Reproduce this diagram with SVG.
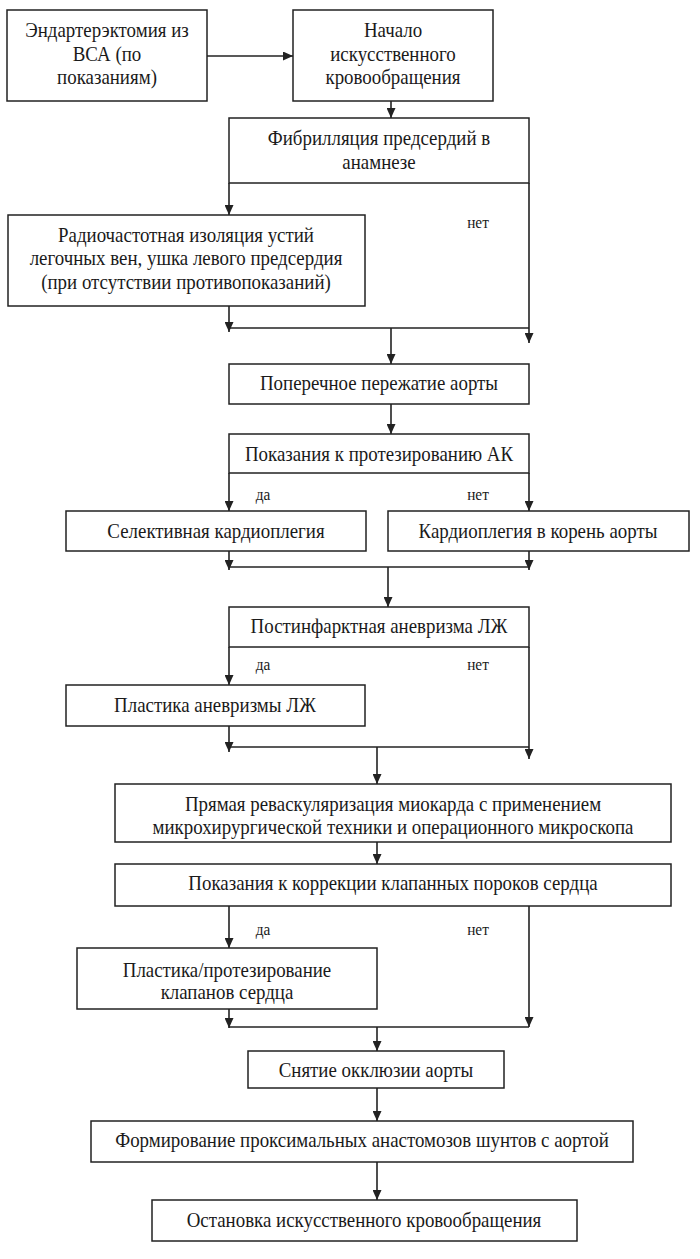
<svg xmlns="http://www.w3.org/2000/svg" width="700" height="1259" viewBox="0 0 700 1259">
<style>
.box{fill:#fff;stroke:#222;stroke-width:1.5}
.t{font-family:"Liberation Serif","Times New Roman",serif;font-size:21px;fill:#1a1a1a;text-anchor:middle}
.l{font-family:"Liberation Serif","Times New Roman",serif;font-size:17px;fill:#1a1a1a;text-anchor:middle}
.c{fill:none;stroke:#222;stroke-width:1.6}
</style>
<defs>
<marker id="ah" markerUnits="userSpaceOnUse" markerWidth="11" markerHeight="9" refX="10" refY="4.5" orient="auto">
<path d="M0,0 L10,4.5 L0,9 z" fill="#222"/>
</marker>
</defs>
<rect width="700" height="1259" fill="#fff"/>
<g id="connectors">
<path class="c" d="M207,56 H293" marker-end="url(#ah)"/>
<path class="c" d="M391,101 V118" marker-end="url(#ah)"/>
<path class="c" d="M229,183 V215" marker-end="url(#ah)"/>
<path class="c" d="M529,183 V343" marker-end="url(#ah)"/>
<path class="c" d="M229,306 V332" marker-end="url(#ah)"/>
<path class="c" d="M229,328 H529"/>
<path class="c" d="M391,328 V364" marker-end="url(#ah)"/>
<path class="c" d="M391,404 V434" marker-end="url(#ah)"/>
<path class="c" d="M229,473 V511" marker-end="url(#ah)"/>
<path class="c" d="M529,473 V511" marker-end="url(#ah)"/>
<path class="c" d="M229,551 V570" marker-end="url(#ah)"/>
<path class="c" d="M529,551 V570" marker-end="url(#ah)"/>
<path class="c" d="M229,567 H529"/>
<path class="c" d="M388,567 V607" marker-end="url(#ah)"/>
<path class="c" d="M229,647 V685" marker-end="url(#ah)"/>
<path class="c" d="M529,647 V759" marker-end="url(#ah)"/>
<path class="c" d="M229,726 V752" marker-end="url(#ah)"/>
<path class="c" d="M229,747 H529"/>
<path class="c" d="M377,747 V784" marker-end="url(#ah)"/>
<path class="c" d="M377,842 V864" marker-end="url(#ah)"/>
<path class="c" d="M229,906 V948" marker-end="url(#ah)"/>
<path class="c" d="M529,906 V1027" marker-end="url(#ah)"/>
<path class="c" d="M229,1009 V1028" marker-end="url(#ah)"/>
<path class="c" d="M229,1027 H529"/>
<path class="c" d="M377,1027 V1051" marker-end="url(#ah)"/>
<path class="c" d="M377,1088 V1121" marker-end="url(#ah)"/>
<path class="c" d="M377,1162 V1200" marker-end="url(#ah)"/>
<text class="l" transform="translate(478,228) scale(0.9,1)">нет</text>
<text class="l" transform="translate(263,500) scale(0.9,1)">да</text>
<text class="l" transform="translate(478,500) scale(0.9,1)">нет</text>
<text class="l" transform="translate(263,670) scale(0.9,1)">да</text>
<text class="l" transform="translate(478,670) scale(0.9,1)">нет</text>
<text class="l" transform="translate(263,935) scale(0.9,1)">да</text>
<text class="l" transform="translate(478,935) scale(0.9,1)">нет</text>
</g>
<g id="n1"><rect class="box" x="7" y="10" width="200" height="91"/>
<text class="t" transform="translate(107,37) scale(0.9,1)">Эндартерэктомия из</text>
<text class="t" transform="translate(107,61) scale(0.9,1)">ВСА (по</text>
<text class="t" transform="translate(107,84) scale(0.9,1)">показаниям)</text></g>
<g id="n2"><rect class="box" x="293" y="10" width="200" height="91"/>
<text class="t" transform="translate(393,37) scale(0.9,1)">Начало</text>
<text class="t" transform="translate(393,61) scale(0.9,1)">искусственного</text>
<text class="t" transform="translate(393,84) scale(0.9,1)">кровообращения</text></g>
<g id="n3"><rect class="box" x="229" y="118" width="300" height="65"/>
<text class="t" transform="translate(379,145) scale(0.9,1)">Фибрилляция предсердий в</text>
<text class="t" transform="translate(379,169) scale(0.9,1)">анамнезе</text></g>
<g id="n4"><rect class="box" x="8" y="215" width="357" height="91"/>
<text class="t" transform="translate(186,242) scale(0.9,1)">Радиочастотная изоляция устий</text>
<text class="t" transform="translate(186,265) scale(0.9,1)">легочных вен, ушка левого предсердия</text>
<text class="t" transform="translate(186,289) scale(0.9,1)">(при отсутствии противопоказаний)</text></g>
<g id="n5"><rect class="box" x="229" y="364" width="300" height="40"/>
<text class="t" transform="translate(379,390) scale(0.9,1)">Поперечное пережатие аорты</text></g>
<g id="n6"><rect class="box" x="229" y="434" width="300" height="39"/>
<text class="t" transform="translate(379,461) scale(0.9,1)">Показания к протезированию АК</text></g>
<g id="n7"><rect class="box" x="66" y="511" width="300" height="40"/>
<text class="t" transform="translate(216,538) scale(0.9,1)">Селективная кардиоплегия</text></g>
<g id="n8"><rect class="box" x="388" y="511" width="301" height="40"/>
<text class="t" transform="translate(538,538) scale(0.9,1)">Кардиоплегия в корень аорты</text></g>
<g id="n9"><rect class="box" x="229" y="607" width="300" height="40"/>
<text class="t" transform="translate(379,633) scale(0.9,1)">Постинфарктная аневризма ЛЖ</text></g>
<g id="n10"><rect class="box" x="66" y="685" width="299" height="41"/>
<text class="t" transform="translate(215,712) scale(0.9,1)">Пластика аневризмы ЛЖ</text></g>
<g id="n11"><rect class="box" x="115" y="784" width="556" height="58"/>
<text class="t" transform="translate(393,811) scale(0.9,1)">Прямая реваскуляризация миокарда с применением</text>
<text class="t" transform="translate(393,834) scale(0.9,1)">микрохирургической техники и операционного микроскопа</text></g>
<g id="n12"><rect class="box" x="115" y="864" width="556" height="42"/>
<text class="t" transform="translate(393,890) scale(0.9,1)">Показания к коррекции клапанных пороков сердца</text></g>
<g id="n13"><rect class="box" x="77" y="948" width="300" height="61"/>
<text class="t" transform="translate(227,977) scale(0.9,1)">Пластика/протезирование</text>
<text class="t" transform="translate(227,999) scale(0.9,1)">клапанов сердца</text></g>
<g id="n14"><rect class="box" x="248" y="1051" width="256" height="37"/>
<text class="t" transform="translate(376,1077) scale(0.9,1)">Снятие окклюзии аорты</text></g>
<g id="n15"><rect class="box" x="91" y="1121" width="542" height="41"/>
<text class="t" transform="translate(362,1147) scale(0.9,1)">Формирование проксимальных анастомозов шунтов с аортой</text></g>
<g id="n16"><rect class="box" x="152" y="1200" width="425" height="41"/>
<text class="t" transform="translate(364,1227) scale(0.9,1)">Остановка искусственного кровообращения</text></g>
</svg>
